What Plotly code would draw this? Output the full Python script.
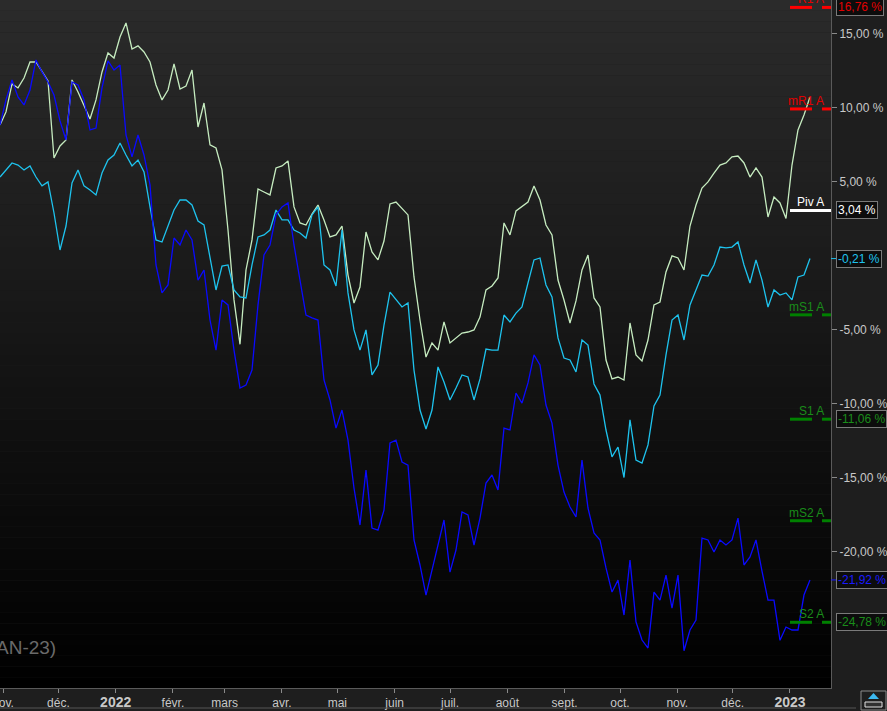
import pandas as pd
import plotly.graph_objects as go

# performance in %, one value every ~3 calendar days, 30 oct 2021 -> 11 jan 2023
light_green = [
    8.82, 9.70, 11.59, 11.32, 11.99, 13.07, 13.07, 12.40, 11.79, 6.59,
    7.40, 7.80, 11.86, 11.05, 10.10, 9.22, 10.51, 12.40, 13.68, 13.34,
    14.76, 15.71, 13.95, 14.16, 13.75, 13.07, 11.52, 10.51, 11.18, 12.94,
    11.25, 11.45, 12.53, 8.68, 10.30, 7.47, 7.26, 5.78, 1.72, -3.00,
    -6.00, -0.98, 1.05, 4.49, 4.29, 4.09, 5.91, 6.05, 6.39, 3.28,
    2.20, 2.06, 2.80, 3.41, 2.40, 1.25, 1.39, 1.99, -1.32, -3.21,
    -2.13, 1.59, 0.24, -0.30, 0.98, 3.48, 3.61, 3.21, 2.74, -1.45,
    -4.36, -6.86, -5.91, -6.39, -4.49, -5.91, -5.57, -5.24, -5.17, -5.03,
    -4.16, -2.33, -2.06, -1.52, 2.20, 1.39, 3.01, 3.28, 3.61, 4.70,
    3.75, 2.06, 1.39, -1.66, -3.01, -4.56, -3.07, -0.98, 0.03, -2.87,
    -3.48, -7.06, -8.34, -8.21, -8.41, -4.56, -6.72, -7.13, -5.71, -3.34,
    -3.14, -1.11, -0.03, -0.17, -0.98, 1.99, 3.41, 4.56, 4.97, 5.57,
    6.11, 6.25, 6.66, 6.72, 6.25, 5.30, 5.91, 5.30, 2.60, 3.95,
    3.55, 2.50, 6.11, 8.48, 9.49, 10.71,
]
cyan = [
    5.30, 5.78, 6.25, 6.11, 5.78, 6.05, 5.30, 4.70, 4.97, 2.87,
    0.37, 1.99, 4.90, 5.78, 4.70, 4.43, 4.09, 5.57, 6.45, 6.79,
    7.60, 6.79, 6.05, 6.45, 5.64, 3.28, 1.05, 0.91, 1.93, 3.07,
    3.75, 3.75, 3.41, 2.33, 2.06, -0.10, -2.33, -0.71, -0.64, -2.33,
    -2.80, -2.87, -0.64, 1.25, 1.39, 1.72, 3.07, 2.40, 2.40, 1.72,
    1.52, 1.18, 2.74, 3.28, -0.64, -0.98, -2.06, 1.72, -2.53, -5.03,
    -6.39, -5.03, -8.07, -7.40, -4.70, -2.47, -3.01, -3.48, -3.21, -7.74,
    -10.44, -11.72, -10.44, -7.53, -8.55, -9.76, -8.95, -8.07, -8.21, -9.76,
    -8.34, -6.32, -6.39, -6.39, -4.02, -4.49, -3.89, -3.48, -1.86, -0.30,
    -0.17, -1.99, -2.80, -5.57, -6.93, -7.06, -7.87, -5.71, -6.05, -8.68,
    -9.43, -11.79, -13.61, -12.94, -15.00, -11.11, -13.82, -14.02, -12.80, -10.17,
    -9.43, -6.72, -4.36, -4.02, -5.71, -3.34, -2.33, -1.32, -1.39, -0.64,
    0.57, 0.51, 0.57, 0.91, -0.64, -1.86, -0.30, -1.66, -3.48, -2.33,
    -2.67, -2.53, -3.00, -1.45, -1.32, -0.21,
]
blue = [
    8.82, 10.51, 11.86, 10.71, 10.17, 11.18, 13.21, 12.40, 11.72, 10.84,
    9.09, 7.80, 11.72, 11.52, 10.51, 8.48, 8.61, 11.32, 13.14, 12.53,
    12.87, 8.14, 6.66, 8.14, 6.79, 4.77, -0.64, -2.53, -1.99, 1.18,
    0.71, 1.72, 1.05, -1.66, -0.98, -4.36, -6.39, -3.01, -3.34, -6.39,
    -8.95, -8.75, -7.74, -3.34, 0.03, 0.71, 2.74, 3.28, 3.55, 0.71,
    -1.66, -4.02, -4.22, -4.36, -8.41, -9.76, -11.66, -10.44, -12.47, -15.71,
    -18.21, -14.49, -18.41, -18.55, -17.20, -12.67, -12.47, -13.95, -14.16, -19.22,
    -20.91, -22.94, -21.25, -19.56, -17.87, -21.39, -19.90, -17.33, -17.53, -19.56,
    -17.74, -15.37, -14.83, -15.84, -11.66, -11.79, -9.29, -9.97, -8.61, -6.72,
    -7.40, -10.10, -11.32, -14.16, -15.98, -16.99, -17.67, -13.82, -17.06, -18.75,
    -19.22, -21.11, -22.74, -21.93, -24.29, -20.57, -24.76, -25.98, -26.52, -22.74,
    -23.28, -21.59, -23.82, -21.59, -26.70, -25.30, -24.63, -19.09, -19.22, -20.03,
    -19.22, -19.56, -19.22, -17.74, -20.91, -20.37, -19.22, -21.32, -23.28, -23.28,
    -26.00, -25.10, -25.30, -25.30, -22.94, -21.92,
]

# annual pivot levels
level_names = ["R1 A", "mR1 A", "Piv A", "mS1 A", "S1 A", "mS2 A", "S2 A"]
level_values = [16.76, 9.90, 3.04, -4.01, -11.06, -17.92, -24.78]
level_colors = ["#ff0000", "#ff0000", "#ffffff", "#008000", "#008000", "#008000", "#008000"]
level_text_colors = ["#e00000", "#e00000", "#ffffff", "#1a8c1a", "#1a8c1a", "#1a8c1a", "#1a8c1a"]
level_boxed = [True, False, True, False, True, False, True]

month_ticks = pd.date_range("2021-11-01", "2023-01-01", freq="MS")
month_labels = ["nov.", "déc.", "<b>2022</b>", "févr.", "mars", "avr.", "mai", "juin",
                "juil.", "août", "sept.", "oct.", "nov.", "déc.", "<b>2023</b>"]
y_ticks = [15, 10, 5, -5, -10, -15, -20]

dates = pd.date_range("2021-10-30 09:00", "2023-01-11 20:00", periods=len(light_green))

FONT = "Liberation Sans, Arial, sans-serif"
W_PLOT = 831.0


def pct(v):
    return "%s %%" % f"{v:.2f}".replace(".", ",")


fig = go.Figure()
fig.add_trace(go.Scatter(x=dates, y=light_green, mode="lines",
                         line=dict(color="#c6ecc0", width=1.3)))
fig.add_trace(go.Scatter(x=dates, y=cyan, mode="lines",
                         line=dict(color="#1ec3ee", width=1.3)))
fig.add_trace(go.Scatter(x=dates, y=blue, mode="lines",
                         line=dict(color="#0a0aff", width=1.3)))

shapes = []
# dark gradient behind the plot
n_bands = 64
for k in range(n_bands):
    y0, y1 = k / n_bands, (k + 1) / n_bands
    g = int(round(43 * (y0 + y1) / 2))
    shapes.append(dict(type="rect", xref="paper", yref="paper", x0=0, x1=1, y0=y0, y1=y1,
                       fillcolor=f"rgb({g},{g},{g})", line=dict(width=0), layer="below"))

annotations = []
for name, val, col, tcol, boxed in zip(level_names, level_values, level_colors,
                                       level_text_colors, level_boxed):
    if name == "Piv A":
        shapes.append(dict(type="line", xref="paper", yref="y", x0=790 / W_PLOT, x1=1,
                           y0=val, y1=val, line=dict(color=col, width=3)))
    else:
        shapes.append(dict(type="line", xref="paper", yref="y", x0=790 / W_PLOT, x1=812 / W_PLOT,
                           y0=val, y1=val, line=dict(color=col, width=3)))
        shapes.append(dict(type="line", xref="paper", yref="y", x0=822 / W_PLOT, x1=1,
                           y0=val, y1=val, line=dict(color=col, width=3)))
    annotations.append(dict(xref="paper", yref="y", x=826 / W_PLOT, y=val, text=name,
                            xanchor="right", yanchor="bottom", yshift=-1, showarrow=False,
                            font=dict(color=tcol, size=12, family=FONT)))
    if boxed:
        annotations.append(dict(xref="paper", yref="y", x=1, y=val, xshift=5, text=pct(val),
                                xanchor="left", yanchor="middle", showarrow=False,
                                bgcolor="#0c0c0c", bordercolor="#7a7a7a", borderwidth=1, borderpad=1,
                                font=dict(color=tcol, size=12, family=FONT)))

# last values of the two series that carry a label
for series, col in [(cyan, "#1ec3ee"), (blue, "#1a1aff")]:
    v = series[-1]
    shapes.append(dict(type="line", xref="paper", yref="y", x0=1, x1=1 + 5 / W_PLOT,
                       y0=v, y1=v, line=dict(color=col, width=1)))
    annotations.append(dict(xref="paper", yref="y", x=1, y=v, xshift=5, text=pct(v),
                            xanchor="left", yanchor="middle", showarrow=False,
                            bgcolor="#0c0c0c", bordercolor="#7a7a7a", borderwidth=1, borderpad=1,
                            font=dict(color=col, size=12, family=FONT)))

annotations.append(dict(xref="paper", yref="paper", x=58 / W_PLOT, y=41 / 688, text="AN-23)",
                        xanchor="right", yanchor="middle", showarrow=False,
                        font=dict(color="#6a6a6a", size=19, family=FONT)))

# small button in the bottom right corner
shapes.append(dict(type="rect", xref="paper", yref="paper", x0=861 / W_PLOT, x1=886 / W_PLOT,
                   y0=-22 / 688, y1=-3 / 688, line=dict(color="#8a8a8a", width=1), fillcolor="#1e1e1e"))
shapes.append(dict(type="rect", xref="paper", yref="paper", x0=865 / W_PLOT, x1=882 / W_PLOT,
                   y0=-19 / 688, y1=-14 / 688, line=dict(color="#e0e0e0", width=1), fillcolor="#303030"))
shapes.append(dict(type="path", xref="paper", yref="paper",
                   path=f"M {868 / W_PLOT},{-11 / 688} L {879 / W_PLOT},{-11 / 688} L {873.5 / W_PLOT},{-5 / 688} Z",
                   line=dict(width=0), fillcolor="#3cb8f0"))
shapes.append(dict(type="line", xref="paper", yref="paper", x0=0, x1=856 / W_PLOT,
                   y0=-20 / 688, y1=-20 / 688, line=dict(color="#555555", width=1)))

fig.update_layout(
    width=887, height=711,
    margin=dict(l=0, r=56, t=0, b=23, autoexpand=False),
    paper_bgcolor="#1e1e1e",
    plot_bgcolor="rgba(0,0,0,0)",
    showlegend=False,
    hovermode=False,
    font=dict(family=FONT, color="#c8c8c8", size=12),
    shapes=shapes,
    annotations=annotations,
)
fig.update_xaxes(
    type="date",
    automargin=False,
    range=["2021-10-30 09:00", "2023-01-23 05:00"],
    tickvals=month_ticks,
    ticktext=[t.replace("<b>", "<b><span style='font-size:14px'>").replace("</b>", "</span></b>")
              for t in month_labels],
    ticks="outside", ticklen=4, tickcolor="#8a8a8a",
    ticklabeloverflow="allow",
    showline=True, linecolor="#5a5a5a", linewidth=1,
    showgrid=False, zeroline=False,
    tickfont=dict(color="#c8c8c8", size=12, family=FONT),
)
fig.update_yaxes(
    side="right",
    automargin=False,
    range=[-29.22, 17.26],
    tickvals=y_ticks,
    ticktext=[pct(t) for t in y_ticks],
    ticks="outside", ticklen=5, tickcolor="#8a8a8a",
    showline=True, linecolor="#5a5a5a", linewidth=1,
    showgrid=False, zeroline=False,
    tickfont=dict(color="#c8c8c8", size=12, family=FONT),
)

fig.write_html("out.html", config={"displayModeBar": False},
               post_script="document.body.style.margin='0';")
